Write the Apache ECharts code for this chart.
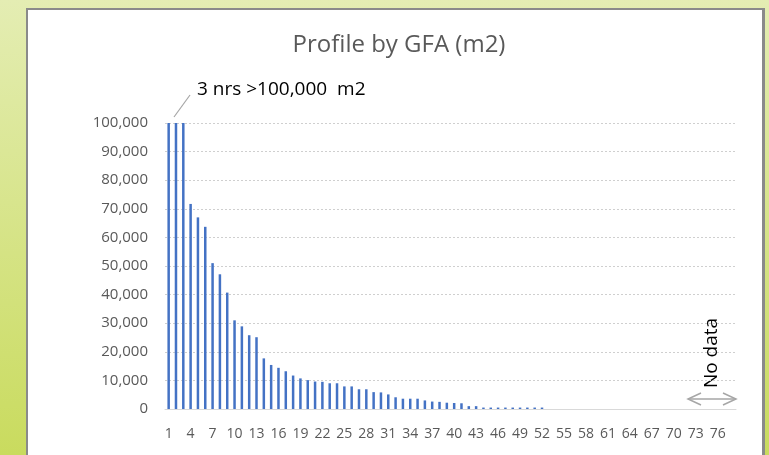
<!DOCTYPE html>
<html><head><meta charset="utf-8">
<script src="https://cdn.jsdelivr.net/npm/echarts@6/dist/echarts.min.js"></script>
<style>html,body{margin:0;padding:0;}#c{width:769px;height:455px;}</style>
</head><body><div id="c"></div>
<script>
var categories = ['1','2','3','4','5','6','7','8','9','10','11','12','13','14','15','16','17','18','19','20',
 '21','22','23','24','25','26','27','28','29','30','31','32','33','34','35','36','37','38','39','40',
 '41','42','43','44','45','46','47','48','49','50','51','52','53','54','55','56','57','58','59','60',
 '61','62','63','64','65','66','67','68','69','70','71','72','73','74','75','76','77','78'];
var gfaValues = [100000,100000,100000,71700,67000,63700,51000,47100,40700,31000,
 28900,25800,25100,17700,15400,14400,13200,11700,10700,10100,
 9600,9500,9000,9000,7900,7900,6900,6900,5900,5800,
 5100,4100,3600,3600,3600,3000,2600,2500,2200,2100,
 2000,1000,1000,500,500,500,500,500,500,500,
 500,500,0,0,0,0,0,0,0,0,
 0,0,0,0,0,0,0,0,0,0,
 0,0,0,0,0,0,0,0];
var yTicks = {min:0, max:100000, interval:10000};
var titleText = 'Profile by GFA (m2)';
var noteText = '3 nrs >100,000  m2';
var noDataText = 'No data';

var chart = echarts.init(document.getElementById('c'), null, {renderer:'canvas'});
var FONT = 'Open Sans';
chart.setOption({
  animation:false,
  backgroundColor:{type:'linear',x:0,y:0,x2:0,y2:1,colorStops:[{offset:0,color:'#e4edb3'},{offset:1,color:'#c9db5e'}]},
  graphic:[
    {type:'rect',z:-10,shape:{x:26,y:8,width:739,height:460},style:{fill:'#8a8a8a'}},
    {type:'rect',z:-9,shape:{x:28,y:10,width:734,height:460},style:{fill:'#ffffff'}},
    {type:'text',x:399,y:45,style:{text:titleText,fontFamily:FONT,fontSize:24,fill:'#595959',textAlign:'center',textVerticalAlign:'middle'}},
    {type:'text',x:197,y:90,style:{text:noteText,fontFamily:FONT,fontSize:19,fill:'#000000',textVerticalAlign:'middle'}},
    {type:'line',shape:{x1:174,y1:117,x2:190,y2:95},style:{stroke:'#a6a6a6',lineWidth:1.2}},
    {type:'text',x:712,y:353,rotation:Math.PI/2,style:{text:noDataText,fontFamily:FONT,fontSize:19,fill:'#000000',textAlign:'center',textVerticalAlign:'middle'}},
    {type:'polyline',shape:{points:[[688,399],[736,399]]},style:{stroke:'#a6a6a6',lineWidth:1.5}},
    {type:'polyline',shape:{points:[[701,393],[688,399],[701,405]]},style:{stroke:'#a6a6a6',lineWidth:1.5,fill:null}},
    {type:'polyline',shape:{points:[[723,393],[736,399],[723,405]]},style:{stroke:'#a6a6a6',lineWidth:1.5,fill:null}}
  ],
  grid:{left:165,right:33,top:123,bottom:46,containLabel:false},
  xAxis:{type:'category',data:categories,boundaryGap:true,
    axisLine:{lineStyle:{color:'#d9d9d9'}},axisTick:{show:false},
    axisLabel:{interval:2,color:'#595959',fontFamily:FONT,fontSize:14,margin:18}},
  yAxis:{type:'value',min:yTicks.min,max:yTicks.max,interval:yTicks.interval,
    axisLine:{show:false},axisTick:{show:false},
    splitLine:{lineStyle:{color:'#cfcfcf',type:[2,2]}},
    axisLabel:{color:'#595959',fontFamily:FONT,fontSize:15,margin:17,
      formatter:function(v){return v.toLocaleString('en-US');}}},
  series:[{type:'bar',data:gfaValues,barWidth:2.5,itemStyle:{color:'#4472c4'}}]
});
</script></body></html>
